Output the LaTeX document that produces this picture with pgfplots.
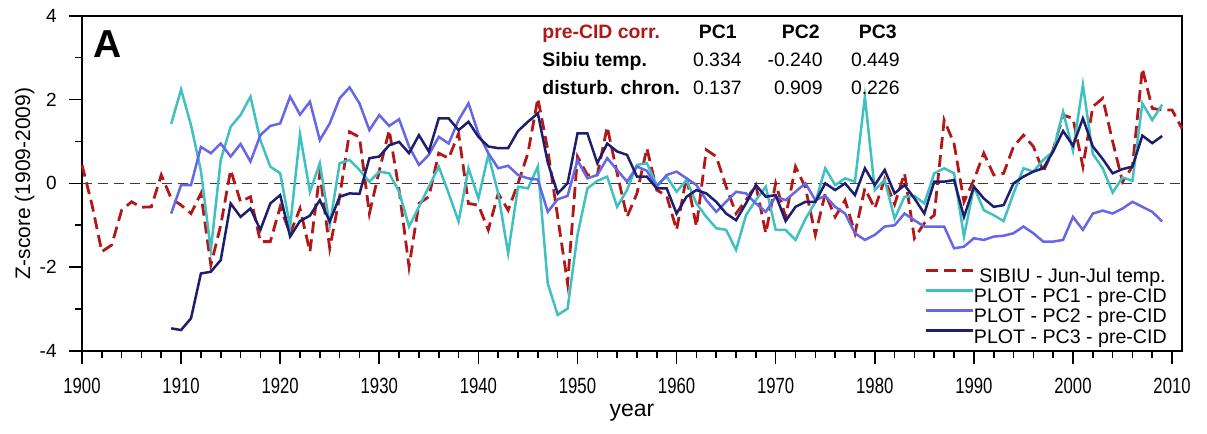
\documentclass[border=0pt]{standalone}
\usepackage{pgfplots}
\pgfplotsset{compat=1.18}
\usepackage{pgfplotstable}
\usepackage{fontspec}
\setmainfont{Liberation Sans}
\newfontfamily\narrowfont[FakeStretch=0.76]{Liberation Sans}
\definecolor{sibred}{RGB}{178,24,24}
\definecolor{pcone}{RGB}{64,192,192}
\definecolor{pctwo}{RGB}{102,102,230}
\definecolor{pcthree}{RGB}{30,30,110}
\definecolor{zerogray}{RGB}{60,60,60}

\pgfplotstableread{
year val
1900 0.44
1901 -0.5
1902 -1.63
1903 -1.47
1904 -0.64
1905 -0.44
1906 -0.57
1907 -0.56
1908 0.2
1909 -0.36
1910 -0.52
1911 -0.72
1912 -0.24
1913 -1.95
1914 -1.0
1915 0.32
1916 -0.44
1917 -0.32
1918 -1.39
1919 -1.39
1920 -0.56
1921 -1.2
1922 -0.6
1923 -1.63
1924 0.24
1925 -1.55
1926 -0.32
1927 1.23
1928 1.1
1929 -0.72
1930 0.3
1931 1.27
1932 -0.16
1933 -1.99
1934 -0.48
1935 -0.32
1936 0.72
1937 0.6
1938 1.19
1939 -0.48
1940 -0.52
1941 -1.11
1942 -0.24
1943 -0.64
1944 0.0
1945 0.72
1946 2.03
1947 0.8
1948 -0.8
1949 -2.39
1950 0.64
1951 0.2
1952 0.2
1953 1.35
1954 0.24
1955 -0.8
1956 -0.24
1957 0.84
1958 -0.16
1959 -0.3
1960 -1.11
1961 0.16
1962 -1.03
1963 0.8
1964 0.64
1965 -0.08
1966 -0.72
1967 -0.4
1968 -0.04
1969 -1.19
1970 0.0
1971 -0.8
1972 0.4
1973 -0.1
1974 -1.23
1975 -0.24
1976 -0.8
1977 -0.4
1978 -1.19
1979 -0.12
1980 -0.6
1981 0.1
1982 -0.5
1983 0.24
1984 -1.31
1985 -0.95
1986 -0.76
1987 1.51
1988 0.95
1989 -0.44
1990 0.08
1991 0.72
1992 0.2
1993 0.24
1994 0.88
1995 1.15
1996 0.88
1997 0.28
1998 0.8
1999 1.63
2000 1.55
2001 0.4
2002 1.83
2003 2.03
2004 1.0
2005 0.04
2006 0.4
2007 2.74
2008 1.79
2009 1.75
2010 1.75
2011 1.31
}\sibiu

\pgfplotstableread{
year val
1909 1.42
1910 2.24
1911 1.39
1912 0.3
1913 -1.59
1914 0.56
1915 1.35
1916 1.63
1917 2.07
1918 1.03
1919 0.4
1920 0.24
1921 -1.03
1922 1.17
1923 -0.2
1924 0.48
1925 -1.0
1926 0.48
1927 0.56
1928 0.32
1929 0.04
1930 0.28
1931 0.24
1932 -0.2
1933 -1.03
1934 -0.56
1935 -0.08
1936 0.4
1937 -0.24
1938 -0.91
1939 0.36
1940 -0.36
1941 0.68
1942 -0.24
1943 -1.67
1944 -0.08
1945 -0.12
1946 0.4
1947 -2.39
1948 -3.14
1949 -2.99
1950 -1.23
1951 -0.12
1952 0.06
1953 0.16
1954 -0.56
1955 -0.16
1956 0.44
1957 0.48
1958 -0.04
1959 0.16
1960 -0.2
1961 0.08
1962 -0.48
1963 -0.8
1964 -1.07
1965 -1.11
1966 -1.59
1967 -0.76
1968 -0.4
1969 -0.08
1970 -1.11
1971 -1.11
1972 -1.35
1973 -0.85
1974 -0.45
1975 0.36
1976 -0.04
1977 0.12
1978 0.04
1979 2.07
1980 -0.16
1981 0.08
1982 -0.84
1983 -0.32
1984 -0.3
1985 -0.48
1986 0.24
1987 0.36
1988 0.24
1989 -1.27
1990 -0.08
1991 -0.64
1992 -0.76
1993 -0.9
1994 -0.24
1995 0.36
1996 0.28
1997 0.56
1998 0.76
1999 1.71
2000 0.78
2001 2.35
2002 0.7
2003 0.36
2004 -0.22
2005 0.14
2006 0.06
2007 1.91
2008 1.51
2009 1.88
}\pcA

\pgfplotstableread{
year val
1909 -0.72
1910 -0.04
1911 -0.04
1912 0.87
1913 0.72
1914 0.95
1915 0.64
1916 0.94
1917 0.52
1918 1.15
1919 1.37
1920 1.43
1921 2.07
1922 1.64
1923 1.95
1924 1.03
1925 1.43
1926 2.03
1927 2.29
1928 1.91
1929 1.27
1930 1.63
1931 1.37
1932 1.53
1933 0.88
1934 0.44
1935 0.68
1936 1.11
1937 0.95
1938 1.51
1939 1.91
1940 1.19
1941 0.72
1942 0.36
1943 0.42
1944 0.2
1945 0.12
1946 0.09
1947 -0.68
1948 -0.38
1949 -0.3
1950 0.55
1951 0.12
1952 0.2
1953 0.6
1954 0.32
1955 0.04
1956 0.4
1957 0.3
1958 -0.08
1959 0.2
1960 0.28
1961 0.12
1962 -0.04
1963 -0.4
1964 -0.68
1965 -0.44
1966 -0.2
1967 -0.24
1968 -0.48
1969 -0.68
1970 -0.32
1971 -0.4
1972 -0.2
1973 0.0
1974 -0.4
1975 -0.3
1976 -0.56
1977 -0.72
1978 -1.19
1979 -1.35
1980 -1.23
1981 -1.03
1982 -1.0
1983 -0.72
1984 -0.88
1985 -1.03
1986 -1.03
1987 -1.03
1988 -1.55
1989 -1.51
1990 -1.31
1991 -1.35
1992 -1.27
1993 -1.25
1994 -1.19
1995 -1.03
1996 -1.19
1997 -1.39
1998 -1.39
1999 -1.35
2000 -0.8
2001 -1.11
2002 -0.72
2003 -0.65
2004 -0.72
2005 -0.6
2006 -0.44
2007 -0.56
2008 -0.68
2009 -0.91
}\pcB

\pgfplotstableread{
year val
1909 -3.46
1910 -3.5
1911 -3.22
1912 -2.15
1913 -2.11
1914 -1.83
1915 -0.48
1916 -0.8
1917 -0.6
1918 -1.11
1919 -0.48
1920 -0.28
1921 -1.27
1922 -0.9
1923 -0.77
1924 -0.4
1925 -0.91
1926 -0.32
1927 -0.24
1928 -0.25
1929 0.6
1930 0.64
1931 0.91
1932 0.99
1933 0.72
1934 1.15
1935 0.76
1936 1.55
1937 1.55
1938 1.27
1939 1.47
1940 1.11
1941 0.88
1942 0.84
1943 0.84
1944 1.25
1945 1.47
1946 1.67
1947 0.5
1948 -0.24
1949 0.0
1950 1.19
1951 1.19
1952 0.48
1953 0.95
1954 0.76
1955 0.68
1956 0.16
1957 0.16
1958 -0.12
1959 -0.12
1960 -0.72
1961 -0.32
1962 -0.16
1963 -0.24
1964 -0.44
1965 -0.72
1966 -0.88
1967 -0.48
1968 -0.04
1969 -0.32
1970 -0.28
1971 -0.9
1972 -0.56
1973 -0.44
1974 -0.44
1975 0.0
1976 -0.16
1977 0.0
1978 -0.28
1979 0.36
1980 -0.04
1981 0.32
1982 -0.24
1983 -0.04
1984 -0.36
1985 -0.72
1986 0.04
1987 0.04
1988 0.08
1989 -0.8
1990 -0.08
1991 -0.36
1992 -0.56
1993 -0.52
1994 0.0
1995 0.16
1996 0.28
1997 0.36
1998 0.76
1999 1.25
2000 0.9
2001 1.55
2002 0.88
2003 0.58
2004 0.24
2005 0.34
2006 0.4
2007 1.14
2008 0.96
2009 1.13
}\pcC

\begin{document}
\begin{tikzpicture}
\useasboundingbox (-41pt,-41.5pt) rectangle (562.5pt,175.5pt);
\begin{axis}[
  at={(0,0)}, anchor=south west,
  scale only axis, width=550pt, height=167.65pt,
  xmin=1900, xmax=2011, ymin=-4, ymax=4,
  xtick={1900,1910,...,2010}, minor x tick num=4,
  ytick={-4,-2,...,4}, minor y tick num=1,
  tick align=outside, xtick pos=bottom, ytick pos=left,
  major tick length=6.5pt, minor tick length=3.5pt,
  tick style={black, line width=0.8pt},
  axis line style={black, line width=0.9pt},
  /pgf/number format/assume math mode=true,
  /pgf/number format/1000 sep={},
  xticklabel style={font=\narrowfont\fontsize{11}{12}\selectfont, anchor=north, inner sep=0pt, yshift=-7pt},
  yticklabel style={font=\fontsize{9.5}{11}\selectfont, anchor=east, inner sep=0pt, xshift=-6pt},
  xlabel={year}, ylabel={Z-score (1909-2009)},
  xlabel style={font=\fontsize{11.5}{12}\selectfont, at={(axis description cs:0.5,0)}, anchor=center, yshift=-31pt},
  ylabel style={font=\fontsize{10.5}{12}\selectfont, at={(axis description cs:-0.052,0.5)}, anchor=center},
  legend style={at={(axis cs:2009.5,-3.92)}, anchor=south east, draw=none, fill=none, inner sep=0pt, row sep=0.6pt,
    font=\fontsize{9.8}{10}\selectfont, nodes={inner sep=0pt, text height=7.4pt, text depth=2.1pt},
    /tikz/every even column/.append style={column sep=5pt}},
  legend cell align=left,
  legend image code/.code={\draw[#1] (0pt,3.5pt) -- (23.5pt,3.5pt);},
  clip=false,
]
\addplot[zerogray, line width=0.7pt, dash pattern=on 5pt off 3pt, forget plot] coordinates {(1900,0) (2011,0)};
\addplot[sibred, line width=1.4pt, dash pattern=on 6pt off 3pt] table[x=year,y=val] {\sibiu};
\addlegendentry{\ SIBIU - Jun-Jul temp.}
\addplot[pcone, line width=1.25pt] table[x=year,y=val] {\pcA};
\addlegendentry{PLOT - PC1 - pre-CID}
\addplot[pctwo, line width=1.25pt] table[x=year,y=val] {\pcB};
\addlegendentry{PLOT - PC2 - pre-CID}
\addplot[pcthree, line width=1.25pt] table[x=year,y=val] {\pcC};
\addlegendentry{PLOT - PC3 - pre-CID}

\node[anchor=base west, font=\bfseries\fontsize{19.5}{20}\selectfont, inner sep=0pt] at (axis cs:1901.1,3.01) {A};

\begin{scope}[every node/.style={inner sep=0pt, font=\fontsize{9.7}{10}\selectfont}]
\node[anchor=base west, text=sibred, font=\bfseries\fontsize{9.7}{10}\selectfont] at (axis cs:1946.42,3.46) {pre-CID corr.};
\node[anchor=base east, font=\bfseries\fontsize{9.7}{10}\selectfont] at (axis cs:1966.1,3.46) {PC1};
\node[anchor=base east, font=\bfseries\fontsize{9.7}{10}\selectfont] at (axis cs:1974.47,3.46) {PC2};
\node[anchor=base east, font=\bfseries\fontsize{9.7}{10}\selectfont] at (axis cs:1982.24,3.46) {PC3};
\node[anchor=base west, font=\bfseries\fontsize{9.7}{10}\selectfont] at (axis cs:1946.42,2.78) {Sibiu temp.};
\node[anchor=base east] at (axis cs:1966.6,2.78) {0.334};
\node[anchor=base east] at (axis cs:1974.77,2.78) {-0.240};
\node[anchor=base east] at (axis cs:1982.54,2.78) {0.449};
\node[anchor=base west, font=\bfseries\fontsize{9.7}{10}\selectfont] at (axis cs:1946.42,2.11) {disturb. chron.};
\node[anchor=base east] at (axis cs:1966.6,2.11) {0.137};
\node[anchor=base east] at (axis cs:1974.77,2.11) {0.909};
\node[anchor=base east] at (axis cs:1982.54,2.11) {0.226};
\end{scope}
\end{axis}
\end{tikzpicture}
\end{document}
